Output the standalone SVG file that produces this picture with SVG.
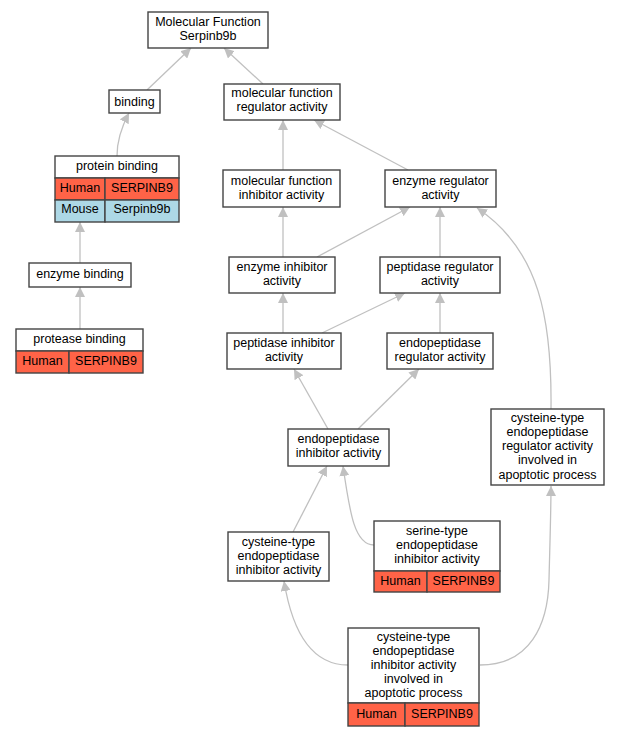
<svg xmlns="http://www.w3.org/2000/svg" width="619" height="736" viewBox="0 0 619 736">
<defs>
<style>
.n rect{fill:#ffffff;stroke:#444444;stroke-width:1.4}
.n rect.h{fill:#ff6347}
.n rect.m{fill:#add8e6}
text{font-family:"Liberation Sans",Arial,sans-serif;font-size:12.5px;fill:#000000;text-anchor:middle}
.e path{fill:none;stroke:#c0c0c0;stroke-width:1.3;marker-end:url(#a)}
</style>
<marker id="a" markerUnits="userSpaceOnUse" markerWidth="11" markerHeight="10" refX="10" refY="5" orient="auto">
<path d="M0,0 L10,5 L0,10 z" fill="#c0c0c0"/>
</marker>
</defs>
<rect width="619" height="736" fill="#ffffff"/>
<g class="e" id="edges">
<path d="M147,90 L191,48"/>
<path d="M263,84 L224,48"/>
<path d="M117,156 C117,140 122,126 129,113"/>
<path d="M80,263 L80,222"/>
<path d="M80,329 L80,287"/>
<path d="M283,170 L283,120"/>
<path d="M408,170 L314,120"/>
<path d="M283,257 L283,207"/>
<path d="M317,257 L410,207"/>
<path d="M440,257 L440,207"/>
<path d="M283,333 L283,293"/>
<path d="M322,333 L405,293"/>
<path d="M440,333 L440,293"/>
<path d="M328,429 L294,369"/>
<path d="M358,429 L419,369"/>
<path d="M551,409 C552,320 540,250 477,208"/>
<path d="M293,532 L327,466"/>
<path d="M374,545 C355,545 350,515 343,466"/>
<path d="M348,665 C310,665 292,630 284,581"/>
<path d="M480,665 C530,665 548,625 549,580 C550,540 551,510 551,486"/>
</g>
<g class="n" id="n_mf"><rect x="148" y="12" width="120" height="36"/><text x="208" y="25.8">Molecular Function</text><text x="208" y="39.9">Serpinb9b</text></g>
<g class="n" id="n_binding"><rect x="109" y="90" width="51" height="23"/><text x="134.5" y="105.8">binding</text></g>
<g class="n" id="n_mfra"><rect x="224" y="84" width="116" height="36"/><text x="282" y="97.3">molecular function</text><text x="282" y="111.4">regulator activity</text></g>
<g class="n" id="n_protein"><rect x="55" y="156" width="124" height="22"/><text x="117" y="170.3">protein binding</text><rect class="h" x="55" y="178" width="50" height="22"/><text x="80" y="192.3">Human</text><rect class="h" x="105" y="178" width="74" height="22"/><text x="142" y="192.3">SERPINB9</text><rect class="m" x="55" y="200" width="50" height="22"/><text x="80" y="213">Mouse</text><rect class="m" x="105" y="200" width="74" height="22"/><text x="142" y="213">Serpinb9b</text></g>
<g class="n" id="n_enzb"><rect x="29" y="263" width="102" height="24"/><text x="80" y="278.3">enzyme binding</text></g>
<g class="n" id="n_protease"><rect x="16" y="329" width="127" height="22"/><text x="79.5" y="343">protease binding</text><rect class="h" x="16" y="351" width="53" height="22"/><text x="42.5" y="365">Human</text><rect class="h" x="69" y="351" width="74" height="22"/><text x="106" y="365">SERPINB9</text></g>
<g class="n" id="n_mfia"><rect x="223" y="170" width="117" height="37"/><text x="281.5" y="184.6">molecular function</text><text x="281.5" y="198.7">inhibitor activity</text></g>
<g class="n" id="n_era"><rect x="385" y="170" width="111" height="37"/><text x="440.5" y="184.6">enzyme regulator</text><text x="440.5" y="198.7">activity</text></g>
<g class="n" id="n_eia"><rect x="229" y="257" width="106" height="36"/><text x="282" y="271.3">enzyme inhibitor</text><text x="282" y="285.4">activity</text></g>
<g class="n" id="n_pra"><rect x="380" y="257" width="120" height="36"/><text x="440" y="271.3">peptidase regulator</text><text x="440" y="285.4">activity</text></g>
<g class="n" id="n_pia"><rect x="227" y="333" width="114" height="36"/><text x="284" y="347.3">peptidase inhibitor</text><text x="284" y="361.4">activity</text></g>
<g class="n" id="n_epra"><rect x="387" y="333" width="106" height="36"/><text x="440" y="347.3">endopeptidase</text><text x="440" y="361.4">regulator activity</text></g>
<g class="n" id="n_epia"><rect x="288" y="429" width="101" height="37"/><text x="338.5" y="443">endopeptidase</text><text x="338.5" y="457.1">inhibitor activity</text></g>
<g class="n" id="n_cepra"><rect x="491" y="409" width="113" height="76"/><text x="547.5" y="422.1">cysteine-type</text><text x="547.5" y="436.2">endopeptidase</text><text x="547.5" y="450.3">regulator activity</text><text x="547.5" y="464.4">involved in</text><text x="547.5" y="478.5">apoptotic process</text></g>
<g class="n" id="n_cepia"><rect x="228" y="532" width="101" height="49"/><text x="278.5" y="545.6">cysteine-type</text><text x="278.5" y="559.7">endopeptidase</text><text x="278.5" y="573.8">inhibitor activity</text></g>
<g class="n" id="n_sepia"><rect x="374" y="521" width="126" height="50"/><text x="437" y="534.8">serine-type</text><text x="437" y="548.9">endopeptidase</text><text x="437" y="563">inhibitor activity</text><rect class="h" x="374" y="571" width="53" height="21"/><text x="400.5" y="585">Human</text><rect class="h" x="427" y="571" width="73" height="21"/><text x="463.5" y="585">SERPINB9</text></g>
<g class="n" id="n_cepiaap"><rect x="348" y="628" width="131" height="75"/><text x="413.5" y="640.6">cysteine-type</text><text x="413.5" y="654.7">endopeptidase</text><text x="413.5" y="668.8">inhibitor activity</text><text x="413.5" y="682.9">involved in</text><text x="413.5" y="697">apoptotic process</text><rect class="h" x="348" y="703" width="57" height="23"/><text x="376.5" y="717.5">Human</text><rect class="h" x="405" y="703" width="74" height="23"/><text x="442" y="717.5">SERPINB9</text></g>
</svg>
